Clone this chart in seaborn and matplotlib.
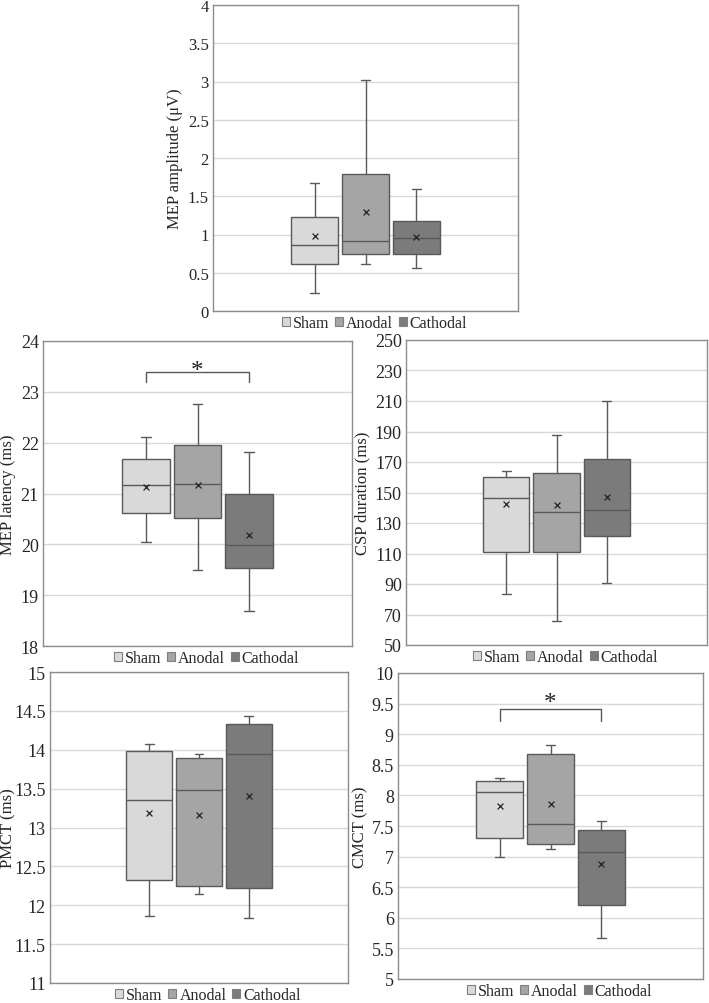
import pandas as pd
import matplotlib
matplotlib.use("Agg")
import matplotlib.pyplot as plt
import seaborn as sns
from matplotlib.patches import Patch
from matplotlib.ticker import FuncFormatter

# Grupos e cores
groups = ["Sham", "Anodal", "Cathodal"]
colors = ["#d9d9d9", "#a5a5a5", "#7b7b7b"]

# Cinco números (min, Q1, mediana, Q3, max) e média por grupo
amp_sham = [0.24, 0.61, 0.86, 1.23, 1.67]
amp_anodal = [0.61, 0.75, 0.92, 1.79, 3.02]
amp_cathodal = [0.56, 0.75, 0.95, 1.18, 1.59]
amp_means = [0.98, 1.30, 0.97]

lat_sham = [20.05, 20.61, 21.16, 21.67, 22.12]
lat_anodal = [19.49, 20.51, 21.19, 21.95, 22.76]
lat_cathodal = [18.68, 19.54, 19.98, 20.99, 21.81]
lat_means = [21.12, 21.17, 20.18]

csp_sham = [83.4, 110.8, 146.2, 160.4, 164.3]
csp_anodal = [65.7, 111.2, 137.0, 163.0, 187.9]
csp_cathodal = [90.9, 121.7, 138.3, 172.2, 210.0]
csp_means = [142.2, 141.6, 146.8]

pmct_sham = [11.86, 12.33, 13.35, 13.98, 14.07]
pmct_anodal = [12.15, 12.25, 13.48, 13.90, 13.95]
pmct_cathodal = [11.84, 12.22, 13.95, 14.33, 14.44]
pmct_means = [13.19, 13.16, 13.41]

cmct_sham = [6.99, 7.31, 8.05, 8.24, 8.29]
cmct_anodal = [7.13, 7.20, 7.53, 8.68, 8.83]
cmct_cathodal = [5.67, 6.21, 7.07, 7.44, 7.58]
cmct_means = [7.82, 7.86, 6.88]

# Significância: (altura do colchete, base das pernas, centro do asterisco)
lat_sig = [23.39, 23.20, 23.56]
cmct_sig = [9.41, 9.22, 9.62]


def make_df(sham, anodal, cathodal):
    rows = []
    for g, vals in zip(groups, [sham, anodal, cathodal]):
        for v in vals:
            rows.append({"x": "all", "grupo": g, "valor": v})
    return pd.DataFrame(rows)


def fig_rect(left, top, right, bottom, W=709, H=1004):
    return [left / W, 1 - bottom / H, (right - left) / W, (bottom - top) / H]


def draw_panel(fig, px, df, means, ylabel, ylim, step, tick_fs, label_off, sig=None):
    ax = fig.add_axes(fig_rect(*px))
    width_px = px[2] - px[0]
    sns.boxplot(data=df, x="x", y="valor", hue="grupo", hue_order=groups,
                palette=colors, width=0.5, gap=0.08, whis=(0, 100),
                linecolor="#595959", linewidth=1.0, legend=False,
                capwidths=0.03, ax=ax)
    # Centros das caixas a partir dos patches do seaborn
    centers = []
    for p in ax.patches:
        ext = p.get_path().get_extents()
        centers.append((ext.x0 + ext.x1) / 2)
    centers = sorted(centers)
    ax.scatter(centers, means, marker="x", color="#222222", s=18,
               linewidths=0.9, zorder=5)
    if sig is not None:
        x0, x1 = centers[0], centers[2]
        ax.plot([x0, x0, x1, x1], [sig[1], sig[0], sig[0], sig[1]],
                color="#595959", lw=1.0)
        ax.annotate("*", xy=((x0 + x1) / 2, sig[2]), xytext=(0, -9.5),
                    textcoords="offset points", ha="center", va="baseline",
                    fontsize=18, color="#222222")
    ax.set_xlim(-0.5, 0.5)
    ax.set_ylim(*ylim)
    ticks = []
    t = ylim[0]
    while t <= ylim[1] + 1e-9:
        ticks.append(round(t, 3))
        t += step
    ax.set_yticks(ticks)
    ax.yaxis.set_major_formatter(FuncFormatter(lambda v, _: f"{v:g}"))
    ax.grid(axis="y", color="#d9d9d9", lw=1.0)
    ax.set_axisbelow(True)
    ax.set_xticks([])
    ax.set_xlabel("")
    ax.set_ylabel(ylabel, fontsize=12)
    ax.yaxis.set_label_coords(label_off / width_px, 0.5)
    ax.tick_params(axis="y", length=0, labelsize=tick_fs, pad=3)
    for s in ax.spines.values():
        s.set_color("#8c8c8c")
        s.set_linewidth(1.0)
    handles = [Patch(facecolor=c, edgecolor="#7f7f7f", lw=0.8) for c in colors]
    ax.legend(handles, groups, loc="upper center",
              bbox_to_anchor=(0.5 + 9 / width_px, 0.0),
              ncol=3, frameon=False, fontsize=11.5, handlelength=0.5,
              handleheight=0.5, handletextpad=0.2, columnspacing=0.35,
              borderaxespad=0.25, borderpad=0.0)
    return ax


sns.set_style("white")
plt.rcParams["font.family"] = ["Liberation Serif", "DejaVu Serif"]

fig = plt.figure(figsize=(7.09, 10.04), dpi=100)

draw_panel(fig, (213, 6, 518, 312), make_df(amp_sham, amp_anodal, amp_cathodal),
           amp_means, "MEP amplitude (\u03bcV)", (0, 4), 0.5, 12, -30)
draw_panel(fig, (43, 342, 352, 647), make_df(lat_sham, lat_anodal, lat_cathodal),
           lat_means, "MEP latency (ms)", (18, 24), 1, 13, -27, sig=lat_sig)
draw_panel(fig, (406, 341, 707, 646), make_df(csp_sham, csp_anodal, csp_cathodal),
           csp_means, "CSP duration (ms)", (50, 250), 20, 13, -36)
draw_panel(fig, (50, 673, 348, 984), make_df(pmct_sham, pmct_anodal, pmct_cathodal),
           pmct_means, "PMCT (ms)", (11, 15), 0.5, 13, -34)
draw_panel(fig, (398, 674, 703, 980), make_df(cmct_sham, cmct_anodal, cmct_cathodal),
           cmct_means, "CMCT (ms)", (5, 10), 0.5, 13, -30, sig=cmct_sig)

fig.savefig("out.png", dpi=100)
